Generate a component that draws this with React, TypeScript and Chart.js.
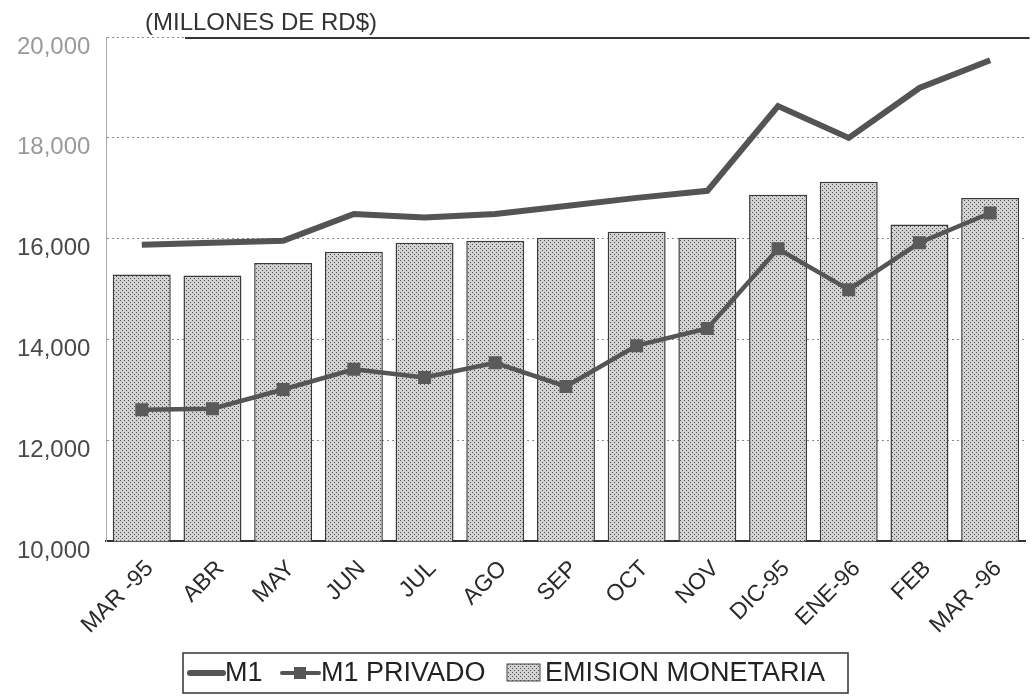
import React, { useEffect, useRef } from "react";
import { Chart, registerables } from "chart.js";

Chart.register(...registerables);

const labels = ["MAR -95", "ABR", "MAY", "JUN", "JUL", "AGO", "SEP", "OCT", "NOV", "DIC-95", "ENE-96", "FEB", "MAR -96"];
const m1 = [15880, 15920, 15960, 16490, 16420, 16490, 16650, 16810, 16950, 18630, 18000, 18990, 19540];
const m1Privado = [12610, 12630, 13010, 13410, 13250, 13540, 13070, 13880, 14220, 15800, 14990, 15920, 16510];
const emision = [15290, 15270, 15520, 15740, 15920, 15960, 16020, 16140, 16020, 16870, 17130, 16280, 16810];
const yTicks = [10000, 12000, 14000, 16000, 18000, 20000];
const titleText = "(MILLONES DE RD$)";
const legendLabels = ["M1", "M1 PRIVADO", "EMISION MONETARIA"];

const FONT = "'Liberation Sans', Arial, Helvetica, sans-serif";

function makePattern(): CanvasPattern | string {
  const c = document.createElement("canvas");
  c.width = 4;
  c.height = 4;
  const g = c.getContext("2d");
  if (!g) return "#c4c4c4";
  g.fillStyle = "#d2d2d2";
  g.fillRect(0, 0, 4, 4);
  g.fillStyle = "#4e4e4e";
  g.fillRect(0, 0, 1, 1);
  g.fillRect(2, 2, 1, 1);
  const p = g.createPattern(c, "repeat");
  return p || "#c4c4c4";
}

export default function App() {
  const ref = useRef<HTMLCanvasElement | null>(null);

  useEffect(() => {
    const canvas = ref.current;
    if (!canvas) return;
    const pattern = makePattern();

    const decor = {
      id: "decor",
      afterDraw(chart: any) {
        const ctx = chart.ctx;
        const area = chart.chartArea;
        const yScale = chart.scales.y;
        ctx.save();
        // title
        ctx.font = `24px ${FONT}`;
        ctx.fillStyle = "#333";
        ctx.textBaseline = "alphabetic";
        ctx.textAlign = "left";
        const titleX = 145;
        ctx.fillText(titleText, titleX, 30);
        // top solid line at max value
        const yTop = yScale.getPixelForValue(yTicks[yTicks.length - 1]);
        ctx.strokeStyle = "#333";
        ctx.lineWidth = 2;
        ctx.beginPath();
        ctx.moveTo(titleX + 40, yTop + 1);
        ctx.lineTo(area.right + 4, yTop + 1);
        ctx.stroke();

        // legend
        const bx = 183, by = 653, bw = 665, bh = 40;
        ctx.strokeStyle = "#333";
        ctx.lineWidth = 1.5;
        ctx.strokeRect(bx, by, bw, bh);
        const cy = 673;
        ctx.font = `27px ${FONT}`;
        ctx.textBaseline = "middle";
        ctx.fillStyle = "#222";
        // M1
        ctx.strokeStyle = "#555";
        ctx.lineWidth = 6;
        ctx.lineCap = "round";
        ctx.beginPath();
        ctx.moveTo(190, cy);
        ctx.lineTo(223, cy);
        ctx.stroke();
        ctx.fillText(legendLabels[0], 225, cy + 1);
        // M1 PRIVADO
        ctx.lineWidth = 4;
        ctx.beginPath();
        ctx.moveTo(282, cy);
        ctx.lineTo(319, cy);
        ctx.stroke();
        ctx.fillStyle = "#555";
        ctx.fillRect(294, cy - 6, 12, 12);
        ctx.fillStyle = "#222";
        ctx.fillText(legendLabels[1], 321, cy + 1);
        // EMISION
        ctx.fillStyle = pattern as any;
        ctx.fillRect(507, cy - 9, 33, 17);
        ctx.strokeStyle = "#444";
        ctx.lineWidth = 1;
        ctx.strokeRect(507, cy - 9, 33, 17);
        ctx.fillStyle = "#222";
        ctx.fillText(legendLabels[2], 545, cy + 1);
        ctx.restore();
      },
    };

    const chart = new Chart(canvas, {
      type: "bar",
      data: {
        labels,
        datasets: [
          {
            type: "line",
            label: legendLabels[0],
            data: m1,
            borderColor: "#545454",
            borderWidth: 6,
            pointRadius: 0,
            fill: false,
            tension: 0,
            order: 1,
          } as any,
          {
            type: "line",
            label: legendLabels[1],
            data: m1Privado,
            borderColor: "#555",
            borderWidth: 4.5,
            pointStyle: "rect",
            pointRadius: 6,
            pointBackgroundColor: "#5a5a5a",
            pointBorderColor: "#5a5a5a",
            fill: false,
            tension: 0,
            order: 2,
          } as any,
          {
            type: "bar",
            label: legendLabels[2],
            data: emision,
            backgroundColor: pattern as any,
            borderColor: "#3a3a3a",
            borderWidth: 1.5,
            barPercentage: 0.82,
            categoryPercentage: 1,
            order: 3,
          } as any,
        ],
      },
      options: {
        animation: false,
        responsive: false,
        maintainAspectRatio: false,
        layout: { padding: { top: 37, right: 4, bottom: 47, left: 1 } },
        plugins: {
          legend: { display: false },
          tooltip: { enabled: false },
          title: { display: false },
        },
        scales: {
          x: {
            grid: { display: false, drawTicks: false },
            border: { display: true, color: "#333", width: 2 },
            ticks: {
              minRotation: 45,
              maxRotation: 45,
              padding: 14,
              labelOffset: 8,
              color: "#2a2a2a",
              font: { family: FONT, size: 23 },
            },
          },
          y: {
            min: yTicks[0],
            max: yTicks[yTicks.length - 1],
            afterBuildTicks: (axis: any) => {
              axis.ticks = yTicks.map((v) => ({ value: v }));
            },
            grid: { color: "#8a8a8a", lineWidth: 1, drawTicks: false },
            border: { display: true, color: "#aaa", width: 1, dash: [2, 3] },
            ticks: {
              padding: 16,
              labelOffset: 10,
              color: (c: any) => (c.tick && c.tick.value >= 18000 ? "#9a9a9a" : "#4a4a4a"),
              font: { family: FONT, size: 24 },
              callback: (v: any) => Number(v).toLocaleString("en-US"),
            },
          },
        },
      },
      plugins: [decor],
    });

    return () => chart.destroy();
  }, []);

  return (
    <div style={{ position: "fixed", left: 0, top: 0, width: 1036, height: 700, background: "#fff" }}>
      <canvas ref={ref} width={1036} height={700} style={{ display: "block" }} />
    </div>
  );
}
